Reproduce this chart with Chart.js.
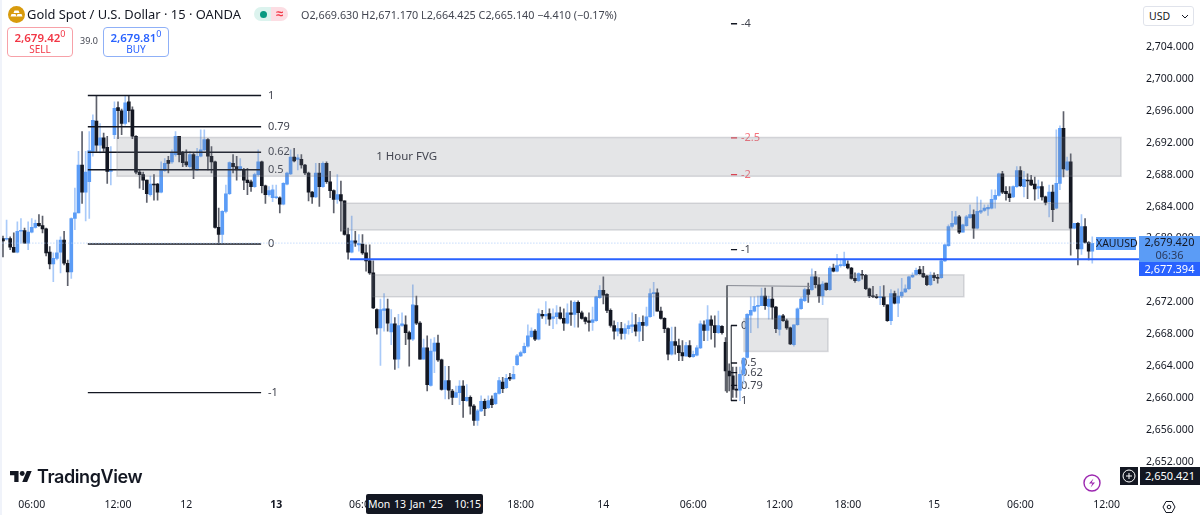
<!DOCTYPE html>
<html>
<head>
<meta charset="utf-8">
<title>XAUUSD 15</title>
<script src="https://cdn.jsdelivr.net/npm/chart.js@4"></script>
<style>
  html, body { margin: 0; padding: 0; width: 1200px; height: 515px; overflow: hidden; background: #fff; }
  body { font-family: "Noto Sans", sans-serif; color: #131722; position: relative; }
  canvas { position: absolute; left: 0; top: 0; }
  .abs { position: absolute; white-space: nowrap; }
  .trade { border-radius: 4px; width: 64px; height: 28px; text-align: center; background: #fff; }
  .trade b { position: absolute; left: 0; right: 0; top: 2px; font-size: 11.5px; font-weight: 600; line-height: 15px; }
  .trade b sup { font-size: 9px; font-weight: 400; line-height: 0; }
  .trade span { position: absolute; left: 0; right: 0; top: 15px; font-size: 10px; line-height: 13px; }
  .lab { font-size: 11px; line-height: 14px; text-align: center; }
</style>
</head>
<body>
<canvas id="goldChart" width="1200" height="515"></canvas>

<div class="abs" style="left:0;top:0;width:2px;height:515px;background:#f0f3fa"></div>

<svg class="abs" style="left:8px;top:6px" width="17" height="17" viewBox="0 0 17 17">
  <circle cx="8.5" cy="8.5" r="8.5" fill="#d89b0d"/>
  <path d="M6.5 4.5h4l1 2.6h-6zM3.5 8h4l1 2.6h-6zM9.5 8h4l1 2.6h-6z" fill="#fff"/>
</svg>
<div class="abs" style="left:27px;top:5px;font-size:12.9px;line-height:19px">Gold Spot / U.S. Dollar · 15 · OANDA</div>
<div class="abs" style="left:254px;top:7px;width:17px;height:14px;background:#dcf3ee;border-radius:7px 0 0 7px"></div>
<div class="abs" style="left:271px;top:7px;width:17px;height:14px;background:#fcdde3;border-radius:0 7px 7px 0;color:#f23645;font-size:13px;font-weight:700;line-height:13px;text-align:center">≈</div>
<div class="abs" style="left:260px;top:11px;width:7px;height:7px;background:#089981;border-radius:50%"></div>
<div class="abs" style="left:301px;top:6px;font-size:10.8px;line-height:17px;color:#434651">O2,669.630 H2,671.170 L2,664.425 C2,665.140 −4.410 (−0.17%)</div>

<div class="abs trade" style="left:7px;top:27px;border:1px solid #f7a1a8;color:#f23645"><b>2,679.42<sup>0</sup></b><span>SELL</span></div>
<div class="abs" style="left:80px;top:34px;font-size:9px;line-height:14px;color:#434651">39.0</div>
<div class="abs trade" style="left:103px;top:27px;border:1px solid #8fb0f7;color:#2962ff"><b>2,679.81<sup>0</sup></b><span>BUY</span></div>

<div class="abs" style="left:1143px;top:6px;width:49px;height:18px;border:1px solid #e0e3eb;border-radius:3px;background:#fff;font-size:10.5px;line-height:18px;text-indent:5px">USD
  <svg class="abs" style="left:37px;top:7px" width="8" height="5" viewBox="0 0 8 5"><path d="M1 1l3 3 3-3" fill="none" stroke="#131722"/></svg>
</div>

<svg class="abs" style="left:10px;top:469px" width="22" height="15" viewBox="0 3 36 20">
  <path d="M14 22H7V11H0V4h14v18zM28 22h-8l7.5-18h8L28 22z" fill="#131722"/><circle cx="20" cy="8" r="4" fill="#131722"/>
</svg>
<div class="abs" style="left:37px;top:465px;font-family:Inter,sans-serif;font-size:18px;font-weight:600;line-height:24px;letter-spacing:-.4px">TradingView</div>

<div class="abs lab" style="left:1096px;top:237px;width:40px;height:13px;background:#5b9cf6;line-height:13px;font-size:10.5px">XAUUSD</div>
<div class="abs lab" style="left:1139px;top:236px;width:61px;height:26px;background:#5b9cf6;line-height:12.5px;font-size:11px">2,679.420<br><span style="color:#2a3a5e">06:36</span></div>
<div class="abs lab" style="left:1139px;top:262px;width:61px;height:14px;background:#2962ff;color:#fff;font-size:11px">2,677.394</div>
<div class="abs" style="left:1120px;top:467px;width:18px;height:18px;background:#131722"></div>
<svg class="abs" style="left:1122px;top:469px" width="14" height="14" viewBox="0 0 14 14"><circle cx="7" cy="7" r="6" fill="none" stroke="#fff"/><path d="M7 4v6M4 7h6" stroke="#fff"/></svg>
<div class="abs lab" style="left:1140px;top:467px;width:60px;height:18px;background:#131722;color:#fff;line-height:18px">2,650.421</div>

<svg class="abs" style="left:1083px;top:474px" width="18" height="18" viewBox="0 0 18 18"><circle cx="9" cy="9" r="8" fill="#fff" stroke="#9c27b0" stroke-width="1.4"/><path d="M10.5 4.5L6 9.5h3.4L7.6 13.5 12 8.4H8.7z" fill="#9c27b0"/></svg>
<svg class="abs" style="left:1162px;top:500px" width="14" height="14" viewBox="0 0 14 14"><path d="M4 1.5h6L13 7l-3 5.5H4L1 7z" fill="none" stroke="#131722"/><circle cx="7" cy="7" r="1.8" fill="none" stroke="#131722"/></svg>

<div class="abs lab" style="left:366px;top:494px;width:117px;height:20px;background:#131722;color:#fff;line-height:20px;font-size:10.5px;border-radius:2px;word-spacing:1px">Mon 13 Jan '25&nbsp;&nbsp;&nbsp;10:15</div>

<script>
const opens = [2680.0,2679.9,2680.0,2678.9,2678.3,2680.9,2681.0,2679.4,2680.8,2681.4,
  2681.9,2681.6,2681.2,2678.3,2676.8,2677.5,2678.3,2679.8,2676.9,2675.8,
  2682.5,2683.2,2689.2,2685.8,2687.1,2690.9,2694.7,2691.7,2692.6,2691.4,
  2688.4,2693.0,2696.4,2696.0,2694.4,2697.1,2696.1,2692.8,2688.3,2688.0,
  2687.3,2685.5,2686.8,2686.8,2685.8,2688.5,2689.8,2689.6,2690.5,2692.8,
  2690.7,2689.6,2689.0,2690.5,2688.6,2690.3,2691.1,2692.4,2690.3,2689.6,
  2681.4,2680.5,2683.4,2685.6,2689.4,2689.0,2688.6,2688.6,2687.3,2687.1,
  2686.5,2688.0,2689.6,2686.6,2685.5,2685.1,2685.1,2685.1,2684.3,2686.8,
  2688.1,2690.2,2689.9,2689.9,2689.2,2688.2,2685.8,2685.2,2688.2,2686.5,
  2689.4,2687.1,2686.0,2684.9,2685.5,2684.7,2680.5,2678.3,2679.7,2679.2,
  2679.3,2678.2,2677.2,2675.7,2671.1,2668.8,2671.0,2671.2,2668.3,2669.3,
  2664.9,2669.1,2669.2,2668.2,2667.4,2671.6,2669.4,2664.9,2666.3,2661.6,
  2665.9,2666.9,2664.8,2661.1,2662.2,2660.9,2660.1,2660.7,2661.5,2659.7,
  2660.1,2659.0,2657.2,2658.4,2659.6,2658.8,2659.9,2659.3,2660.6,2662.0,
  2661.3,2662.6,2662.4,2664.2,2665.3,2665.7,2666.5,2667.7,2668.4,2667.4,
  2670.5,2670.3,2670.6,2670.0,2670.2,2670.7,2670.0,2669.4,2670.7,2670.5,
  2672.0,2670.7,2670.1,2669.7,2669.5,2669.7,2672.6,2673.5,2673.0,2671.0,
  2669.1,2668.4,2668.7,2668.1,2668.7,2669.0,2669.2,2668.4,2669.5,2669.1,
  2670.2,2673.1,2673.2,2670.9,2670.0,2668.7,2665.5,2667.1,2666.6,2665.7,
  2665.3,2666.6,2665.2,2665.4,2666.3,2669.2,2668.5,2669.8,2669.1,2668.2,
  2669.0,2667.0,2663.4,2662.8,2661.1,2661.0,2663.0,2665.1,2670.4,2670.9,
  2671.5,2671.6,2672.8,2671.5,2672.4,2671.4,2668.6,2670.3,2669.7,2668.8,
  2666.7,2669.2,2671.2,2672.2,2673.6,2673.6,2675.2,2674.2,2672.8,2674.4,
  2673.6,2676.3,2675.9,2676.6,2676.6,2676.8,2676.3,2675.0,2674.7,2675.5,
  2675.4,2673.7,2672.8,2672.7,2672.6,2672.7,2671.7,2669.7,2673.1,2671.9,
  2672.8,2673.3,2673.7,2675.2,2675.5,2676.1,2675.6,2675.3,2674.2,2675.4,
  2675.1,2675.1,2677.2,2679.1,2681.5,2681.8,2682.7,2680.8,2681.6,2682.6,
  2683.0,2681.3,2683.3,2683.5,2683.7,2683.8,2684.9,2685.4,2688.1,2685.9,
  2685.6,2685.2,2686.5,2688.5,2686.5,2687.3,2687.3,2686.8,2686.3,2686.5,
  2685.2,2684.6,2685.8,2683.8,2686.9,2693.8,2688.6,2689.6,2681.3,2681.9,
  2678.7,2681.5,2679.5,2678.4];
const highs = [2680.3,2682.3,2680.2,2680.7,2682.1,2682.5,2681.3,2682.1,2682.5,2682.3,
  2683.0,2682.8,2681.3,2679.0,2678.2,2679.8,2680.2,2680.9,2677.3,2682.6,
  2686.3,2690.9,2693.4,2690.9,2693.4,2695.5,2697.8,2694.4,2693.2,2692.8,
  2691.5,2697.1,2697.1,2696.2,2697.8,2697.8,2696.5,2692.9,2688.6,2688.3,
  2687.3,2687.8,2688.0,2686.9,2689.6,2690.0,2690.3,2691.1,2693.4,2692.8,
  2690.9,2691.1,2690.9,2690.7,2691.3,2693.6,2693.6,2692.5,2691.5,2689.7,
  2683.8,2683.5,2686.7,2689.6,2690.5,2690.3,2690.0,2688.8,2688.8,2687.3,
  2688.2,2691.1,2689.7,2686.7,2686.5,2686.7,2686.7,2685.2,2687.0,2688.3,
  2691.1,2691.3,2690.5,2690.5,2689.3,2688.3,2685.9,2689.4,2689.4,2689.6,
  2689.6,2688.4,2686.1,2688.0,2687.2,2684.7,2681.3,2682.8,2680.9,2680.5,
  2680.5,2679.2,2679.2,2677.2,2671.2,2672.4,2673.1,2672.4,2671.1,2670.1,
  2670.5,2670.7,2670.3,2668.4,2674.2,2672.8,2669.6,2667.4,2667.8,2667.4,
  2667.6,2667.9,2664.9,2664.0,2664.0,2661.1,2661.5,2662.2,2662.2,2661.7,
  2660.3,2659.2,2658.6,2660.3,2659.9,2660.3,2660.3,2660.7,2662.6,2662.6,
  2663.0,2663.1,2664.0,2665.5,2665.9,2666.9,2669.2,2668.8,2668.6,2671.2,
  2671.0,2672.1,2671.2,2671.2,2671.6,2671.4,2671.2,2671.8,2672.2,2672.2,
  2672.2,2670.9,2670.2,2670.7,2671.4,2672.8,2674.1,2675.2,2673.1,2671.2,
  2669.7,2669.5,2669.5,2669.3,2669.7,2670.7,2670.5,2670.1,2670.3,2671.4,
  2673.7,2674.5,2673.7,2671.4,2670.1,2668.8,2668.9,2668.9,2667.4,2667.2,
  2667.0,2667.2,2665.9,2666.6,2669.7,2669.7,2671.6,2670.3,2670.3,2670.9,
  2669.1,2667.6,2664.3,2663.9,2663.9,2663.9,2665.1,2670.6,2672.7,2672.7,
  2672.8,2673.8,2673.8,2672.8,2673.9,2671.5,2670.4,2670.5,2669.9,2668.9,
  2669.2,2671.3,2672.6,2673.8,2674.4,2676.2,2675.9,2675.1,2674.6,2674.4,
  2676.5,2676.8,2678.0,2677.4,2678.3,2677.2,2676.4,2675.7,2675.7,2676.0,
  2675.5,2673.8,2674.0,2673.0,2674.0,2674.1,2671.7,2673.6,2673.4,2673.7,
  2675.0,2674.2,2675.3,2675.7,2676.3,2676.5,2676.5,2675.4,2675.8,2675.7,
  2675.5,2677.5,2679.3,2681.7,2683.4,2683.4,2682.9,2681.8,2682.9,2684.2,
  2683.6,2685.2,2684.8,2684.2,2684.2,2686.1,2686.1,2688.2,2688.4,2686.5,
  2686.5,2686.6,2689.0,2689.0,2688.4,2688.1,2687.9,2687.7,2687.3,2687.1,
  2685.3,2686.7,2686.7,2693.6,2694.1,2695.9,2690.2,2690.6,2681.9,2682.0,
  2683.0,2682.5,2679.6,2680.2];
const lows = [2677.7,2679.8,2678.6,2678.3,2678.2,2679.4,2679.4,2678.6,2680.7,2681.3,
  2681.5,2680.7,2677.8,2676.2,2674.6,2677.3,2675.7,2676.7,2674.1,2675.0,
  2681.1,2683.2,2684.4,2682.2,2682.5,2690.3,2690.9,2690.7,2690.9,2686.9,
  2686.7,2692.5,2692.5,2693.0,2694.2,2694.6,2692.5,2688.1,2686.3,2686.1,
  2684.5,2685.3,2684.8,2684.8,2685.7,2688.4,2688.2,2689.4,2690.3,2689.6,
  2689.0,2689.0,2688.8,2687.5,2688.5,2690.2,2691.0,2688.6,2688.2,2681.3,
  2679.3,2679.4,2683.2,2685.5,2688.2,2687.3,2688.5,2686.1,2685.5,2685.9,
  2686.4,2687.8,2685.7,2684.4,2685.3,2684.6,2685.0,2683.2,2684.2,2686.7,
  2688.0,2689.6,2688.6,2688.8,2688.0,2684.7,2684.4,2685.1,2684.0,2686.4,
  2686.9,2685.1,2683.2,2684.4,2680.9,2680.4,2677.4,2678.2,2679.0,2678.4,
  2678.0,2675.9,2675.5,2671.2,2668.0,2664.1,2668.4,2668.4,2666.7,2663.6,
  2663.8,2669.0,2666.7,2664.0,2667.2,2669.2,2664.9,2664.9,2660.9,2661.5,
  2663.2,2664.6,2661.0,2659.9,2659.9,2659.2,2660.1,2659.2,2657.6,2659.6,
  2658.0,2656.6,2656.6,2658.3,2657.8,2658.7,2658.8,2659.2,2660.5,2660.7,
  2661.2,2662.2,2662.4,2664.1,2665.2,2665.6,2666.4,2667.6,2667.2,2667.3,
  2670.0,2669.3,2669.1,2668.7,2669.3,2669.9,2668.5,2669.3,2669.1,2668.9,
  2668.9,2669.9,2669.3,2668.4,2668.5,2669.6,2672.5,2671.8,2670.7,2668.9,
  2667.4,2667.8,2667.4,2667.4,2668.0,2668.2,2667.8,2667.1,2667.2,2669.0,
  2670.1,2670.3,2670.9,2669.9,2668.2,2664.8,2665.4,2665.5,2664.7,2664.7,
  2665.2,2665.1,2665.1,2665.3,2666.2,2667.2,2667.2,2667.4,2666.4,2668.1,
  2668.0,2660.9,2660.9,2660.1,2660.1,2659.7,2661.8,2665.0,2668.2,2670.8,
  2668.8,2671.6,2671.1,2669.9,2669.9,2668.2,2667.9,2669.6,2668.6,2666.7,
  2666.5,2669.1,2671.1,2672.1,2672.0,2673.5,2673.8,2672.0,2671.7,2673.5,
  2673.5,2675.8,2675.8,2676.4,2676.5,2676.2,2674.9,2674.5,2674.6,2674.9,
  2673.6,2672.6,2672.6,2672.5,2671.7,2671.5,2669.6,2669.2,2671.8,2670.2,
  2672.6,2673.2,2673.6,2675.1,2675.4,2675.5,2675.1,2674.1,2674.1,2674.7,
  2674.4,2675.0,2677.1,2679.0,2681.3,2681.7,2680.6,2680.8,2681.5,2682.5,
  2680.0,2681.2,2683.1,2683.4,2682.9,2683.7,2683.8,2685.3,2685.6,2684.8,
  2684.6,2685.1,2686.4,2686.5,2685.2,2685.0,2686.6,2684.8,2685.0,2684.8,
  2684.2,2682.7,2682.1,2683.7,2686.1,2687.7,2688.5,2677.9,2681.2,2676.7,
  2678.0,2679.4,2677.3,2676.9];
const closes = [2679.7,2680.0,2678.9,2678.3,2680.9,2681.0,2679.4,2680.8,2681.4,2681.9,
  2681.6,2681.2,2678.2,2676.8,2677.5,2678.2,2679.8,2676.9,2675.8,2682.5,
  2683.2,2689.2,2685.8,2688.3,2691.0,2694.8,2691.7,2692.6,2691.3,2688.4,
  2688.6,2696.3,2696.0,2694.4,2697.0,2696.0,2692.8,2688.3,2688.0,2687.3,
  2685.6,2686.8,2686.7,2685.8,2688.6,2689.4,2689.4,2690.7,2692.8,2690.5,
  2689.5,2689.2,2690.5,2688.7,2690.3,2691.1,2692.4,2690.3,2689.6,2681.4,
  2680.5,2683.4,2685.6,2689.5,2689.0,2688.6,2689.0,2687.3,2687.0,2686.5,
  2688.0,2689.6,2686.6,2685.5,2686.0,2686.1,2685.2,2684.3,2686.9,2688.2,
  2690.2,2689.7,2690.1,2689.2,2688.2,2685.8,2685.2,2688.2,2686.5,2689.4,
  2687.1,2686.0,2684.9,2685.5,2684.7,2680.5,2678.3,2679.7,2679.4,2679.4,
  2678.2,2677.2,2675.7,2671.3,2668.8,2671.1,2671.2,2669.4,2669.3,2664.9,
  2669.1,2669.3,2668.2,2667.4,2671.7,2669.4,2664.9,2666.3,2661.7,2665.9,
  2666.9,2664.8,2661.1,2662.2,2661.0,2660.1,2660.7,2661.5,2659.7,2660.1,
  2659.0,2657.2,2658.4,2659.6,2658.7,2659.7,2659.2,2660.6,2662.2,2661.2,
  2662.5,2662.4,2663.0,2665.3,2665.7,2666.5,2667.8,2668.4,2667.4,2670.6,
  2670.3,2670.5,2669.9,2670.2,2670.7,2670.0,2669.4,2670.7,2670.5,2672.0,
  2670.7,2670.0,2669.6,2669.5,2669.8,2672.7,2673.5,2672.9,2671.0,2669.1,
  2668.4,2668.7,2668.1,2668.7,2669.1,2669.2,2668.4,2669.5,2669.1,2670.2,
  2673.1,2673.2,2670.9,2670.0,2668.7,2665.5,2667.1,2666.6,2665.7,2665.3,
  2666.6,2665.2,2665.5,2666.3,2669.3,2668.5,2669.8,2669.1,2668.2,2669.1,
  2668.2,2663.4,2662.8,2661.1,2661.0,2663.0,2665.0,2670.5,2671.0,2671.5,
  2671.6,2672.8,2671.6,2672.4,2671.4,2668.7,2670.3,2669.7,2668.8,2666.8,
  2669.2,2671.2,2672.4,2673.6,2673.0,2675.2,2674.2,2672.8,2674.3,2673.6,
  2676.3,2675.9,2676.6,2676.7,2677.3,2676.3,2675.0,2674.7,2675.6,2675.4,
  2673.7,2672.8,2672.7,2672.6,2672.7,2671.7,2669.7,2673.1,2671.9,2672.8,
  2673.3,2673.7,2675.2,2675.4,2676.0,2675.6,2675.2,2674.2,2675.4,2675.1,
  2675.0,2677.2,2679.2,2681.5,2681.9,2682.7,2680.8,2681.7,2682.7,2683.0,
  2681.3,2683.4,2683.5,2683.8,2683.9,2684.9,2685.4,2688.1,2685.8,2685.6,
  2685.1,2686.5,2688.5,2686.6,2687.4,2687.2,2686.7,2686.2,2686.5,2685.2,
  2684.5,2685.8,2683.6,2686.9,2693.8,2688.7,2689.6,2681.3,2681.9,2678.7,
  2681.5,2679.5,2678.4,2679.4];

const priceTicks = [2704,2700,2696,2692,2688,2684,2680,2676,2672,2668,2664,2660,2656,2652];
const timeTickBars = [8,32,51,76,100,124,144,167,192,216,235,259,283,307];
const timeTickLabels = ["06:00","12:00","12","13","06:00","12:00","18:00","14","06:00","12:00","18:00","15","06:00","12:00"];
const boldTicks = ["13"];

// fib drawn off the high/low of the 12th-13th move
const fibALevels = ["1","0.79","0.62","0.5","0","-1"];
const fibAPrices = [2697.9,2694.0,2690.8,2688.6,2679.3,2660.7];
// fib drawn off the 13th-14th low
const fibBLevels = ["-4","-2.5","-2","-1","0","0.5","0.62","0.79","1"];
const fibBPrices = [2706.9,2692.6,2688.0,2678.6,2669.1,2664.4,2663.2,2661.6,2659.7];

const zoneFrom = [31.7,94.6,102.6,206.1];
const zoneTo = [311,296.8,267.3,229.5];
const zoneTop = [2692.65,2684.42,2675.45,2669.96];
const zoneBottom = [2687.79,2681.06,2672.7,2665.85];

const lastPrice = 2679.42;
const bluePrice = 2677.394;

const upBody = "#5b9cf6", downBody = "#131722", upWick = "#a9caf9", downWick = "#5d606b";
const isUp = opens.map((o, i) => closes[i] >= o);

function flat(x1, x2, price, color, width, dash) {
    return {
        type: "line",
        data: [{x: x1, y: price}, {x: x2, y: price}],
        borderColor: color,
        borderWidth: width,
        borderDash: dash || [],
        pointRadius: 0,
        order: 0
    };
}

const datasets = [
    {
        type: "bar",
        data: opens.map((_, i) => ({x: i, y: [lows[i], highs[i]]})),
        backgroundColor: isUp.map(u => u ? upWick : downWick),
        barThickness: 1,
        grouped: false,
        order: 3
    },
    {
        type: "bar",
        data: opens.map((o, i) => ({x: i, y: [Math.min(o, closes[i]), Math.max(o, closes[i])]})),
        backgroundColor: isUp.map(u => u ? upBody : downBody),
        barThickness: 3,
        minBarLength: 1,
        grouped: false,
        order: 2
    },
    flat(-1, 317, lastPrice, "#a9caf9", 1, [1, 2]),
    flat(96.5, 317, bluePrice, "#2962ff", 2)
];
fibAPrices.forEach(p => datasets.push(flat(23.6, 71.8, p, "#131722", 1.4)));
fibBPrices.forEach((p, i) => {
    const red = fibBLevels[i] === "-2" || fibBLevels[i] === "-2.5";
    datasets.push(flat(202.5, 204.2, p, red ? "#f23645" : "#131722", 1.4));
});
// the two trend lines of the lower fib
datasets.push({type: "line", data: [{x: 201.4, y: 2674.1}, {x: 201.4, y: 2660.7}], borderColor: "#55585f", borderWidth: 1, pointRadius: 0, order: 0});
datasets.push({type: "line", data: [{x: 201.4, y: 2674.1}, {x: 224.5, y: 2674.0}], borderColor: "#8a8d96", borderWidth: 1, pointRadius: 0, order: 0});
datasets.push({type: "line", data: [{x: 202.6, y: 2669.1}, {x: 202.6, y: 2659.7}], borderColor: "#55585f", borderWidth: 1, pointRadius: 0, order: 0});

const fibLabels = {
    id: "fibLabels",
    beforeDatasetsDraw(chart) {
        const {ctx, scales: {x, y}} = chart;
        ctx.save();
        ctx.font = "11px 'Noto Sans'";
        ctx.textBaseline = "middle";
        ctx.fillStyle = "#434651";
        fibALevels.forEach((t, i) => ctx.fillText(t, x.getPixelForValue(73.7), y.getPixelForValue(fibAPrices[i])));
        fibBLevels.forEach((t, i) => {
            const red = t === "-2" || t === "-2.5";
            ctx.fillStyle = red ? "#f7717c" : "#434651";
            ctx.fillText(t, x.getPixelForValue(205.3), y.getPixelForValue(fibBPrices[i]));
        });
        ctx.restore();
    }
};

const zones = {
    id: "zones",
    afterDatasetsDraw(chart) {
        const {ctx, scales: {x, y}} = chart;
        ctx.save();
        zoneFrom.forEach((f, i) => {
            const l = x.getPixelForValue(f), r = x.getPixelForValue(zoneTo[i]);
            const t = y.getPixelForValue(zoneTop[i]), b = y.getPixelForValue(zoneBottom[i]);
            ctx.fillStyle = "rgba(120,123,134,0.2)";
            ctx.fillRect(l, t, r - l, b - t);
            ctx.strokeStyle = "rgba(120,123,134,0.25)";
            ctx.lineWidth = 1.5;
            ctx.strokeRect(l, t, r - l, b - t);
        });
        ctx.font = "11.5px 'Noto Sans'";
        ctx.fillStyle = "#434651";
        ctx.textBaseline = "middle";
        ctx.fillText("1 Hour FVG", x.getPixelForValue(103.8), y.getPixelForValue(2690.3));
        ctx.restore();
    }
};

new Chart(document.getElementById("goldChart"), {
    data: {datasets: datasets},
    options: {
        responsive: false,
        animation: false,
        layout: {padding: 0},
        plugins: {legend: {display: false}, tooltip: {enabled: false}},
        scales: {
            x: {
                type: "linear",
                offset: false,
                min: -0.83,
                max: 316,
                grid: {display: false, drawTicks: false},
                border: {display: false},
                afterBuildTicks: s => { s.ticks = timeTickBars.map(v => ({value: v})); },
                afterFit: s => { s.height = 25; },
                ticks: {
                    autoSkip: false,
                    maxRotation: 0,
                    padding: 9,
                    color: "#131722",
                    font: c => ({family: "'Noto Sans'", size: 10.5, weight: boldTicks.includes(c.tick && c.tick.label) ? "bold" : "normal"}),
                    callback: v => timeTickLabels[timeTickBars.indexOf(v)]
                }
            },
            y: {
                type: "linear",
                position: "right",
                min: 2648.5,
                max: 2708.2,
                grid: {display: false, drawTicks: false},
                border: {display: false},
                afterBuildTicks: s => { s.ticks = priceTicks.map(v => ({value: v})); },
                afterFit: s => { s.width = 61; },
                ticks: {
                    padding: 7,
                    color: "#131722",
                    font: {family: "'Noto Sans'", size: 10.5},
                    callback: v => v.toLocaleString("en-US", {minimumFractionDigits: 3})
                }
            }
        }
    },
    plugins: [fibLabels, zones]
});
</script>
</body>
</html>
